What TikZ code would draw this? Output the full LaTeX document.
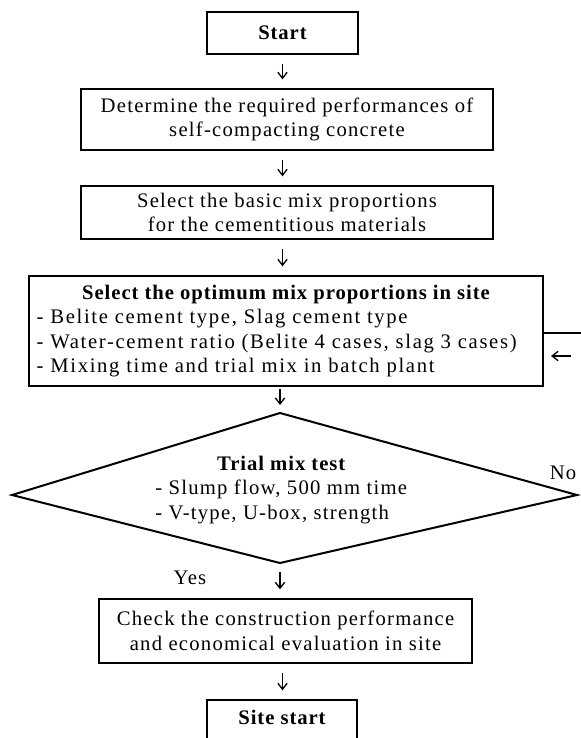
\documentclass[tikz,border=0pt]{standalone}
\usepackage{fontspec}
\setmainfont{Liberation Serif}[LetterSpace=6,BoldFeatures={LetterSpace=4.5}]
\usetikzlibrary{arrows.meta}

\begin{document}
\begin{tikzpicture}[x=0.75pt,y=-0.75pt,
  font=\fontsize{15.5}{18.4}\selectfont,
  box/.style={draw,line width=1.5pt,align=center,inner sep=0pt},
  flow/.style={-{Straight Barb[length=4.5pt,width=7pt]},line width=1pt,
    shorten <=6.5pt,shorten >=6.5pt}]

\useasboundingbox (0,0) rectangle (581,738);
\clip (0,0) rectangle (581,738);

% Boxes
\node[box,minimum width=113.25pt,minimum height=31.5pt] (start) at (282.5,33) {\bfseries Start};
\node[box,minimum width=309pt,minimum height=45.75pt] (perf) at (287,119.5)
  {Determine the required performances of\\ self-compacting concrete};
\node[box,minimum width=309pt,minimum height=39.75pt] (basic) at (287,212.5)
  {Select the basic mix proportions\\ for the cementitious materials};
\node[box,minimum width=385.5pt,minimum height=82.5pt] (opt) at (286,331)
  {\begin{tabular}{@{}p{374pt}@{}}
   \multicolumn{1}{@{}c@{}}{\bfseries Select the optimum mix proportions in site}\\
   \addfontfeatures{LetterSpace=8}- Belite cement type, Slag cement type\\
   \addfontfeatures{LetterSpace=8}- Water-cement ratio (Belite 4 cases, slag 3 cases)\\
   \addfontfeatures{LetterSpace=8}- Mixing time and trial mix in batch plant
   \end{tabular}};

% Decision
\coordinate (trialN) at (280,413);
\coordinate (trialE) at (577,495);
\coordinate (trialS) at (280,563);
\coordinate (trialW) at (12,495);
\draw[line width=1.5pt] (trialN) -- (trialE) -- (trialS) -- (trialW) -- cycle;
\node[inner sep=0pt,anchor=west] (trial) at (155,490)
  {\begin{tabular}{@{}l@{}}
   \multicolumn{1}{@{}c@{}}{\bfseries Trial mix test}\\
   - Slump flow, 500 mm time\\
   - V-type, U-box, strength
   \end{tabular}};

\node[box,minimum width=279.75pt,minimum height=48pt] (check) at (285.5,631)
  {Check the construction performance\\ and economical evaluation in site};
\node[box,anchor=north,minimum width=112.5pt,minimum height=45pt,
  text height=11pt,text depth=19pt] (site) at (282,699) {\bfseries Site start};

% Arrows
\draw[flow] (start.south) -- (start.south |- perf.north);
\draw[flow] (start.south |- perf.south) -- (start.south |- basic.north);
\draw[flow] (start.south |- basic.south) -- (start.south |- opt.north);
\draw[flow,shorten <=1.5pt,shorten >=6pt] (trialN |- opt.south) -- (trialN);
\draw[flow] (trialS) -- (trialS |- check.north);
\draw[flow] (start.south |- check.south) -- (start.south |- site.north);

% Back to mix selection
\coordinate (backR) at (571,356);
\coordinate (backL) at (551,356);
\coordinate (edge) at (581,333);
\draw[line width=0.8pt] (opt.east |- edge) -- (edge);
\draw[flow,shorten <=0pt,shorten >=0pt] (backR) -- (backL);

% Labels
\node (yes) at (190,578) {Yes};
\node (no) at (563,473) {No};

\end{tikzpicture}
\end{document}
